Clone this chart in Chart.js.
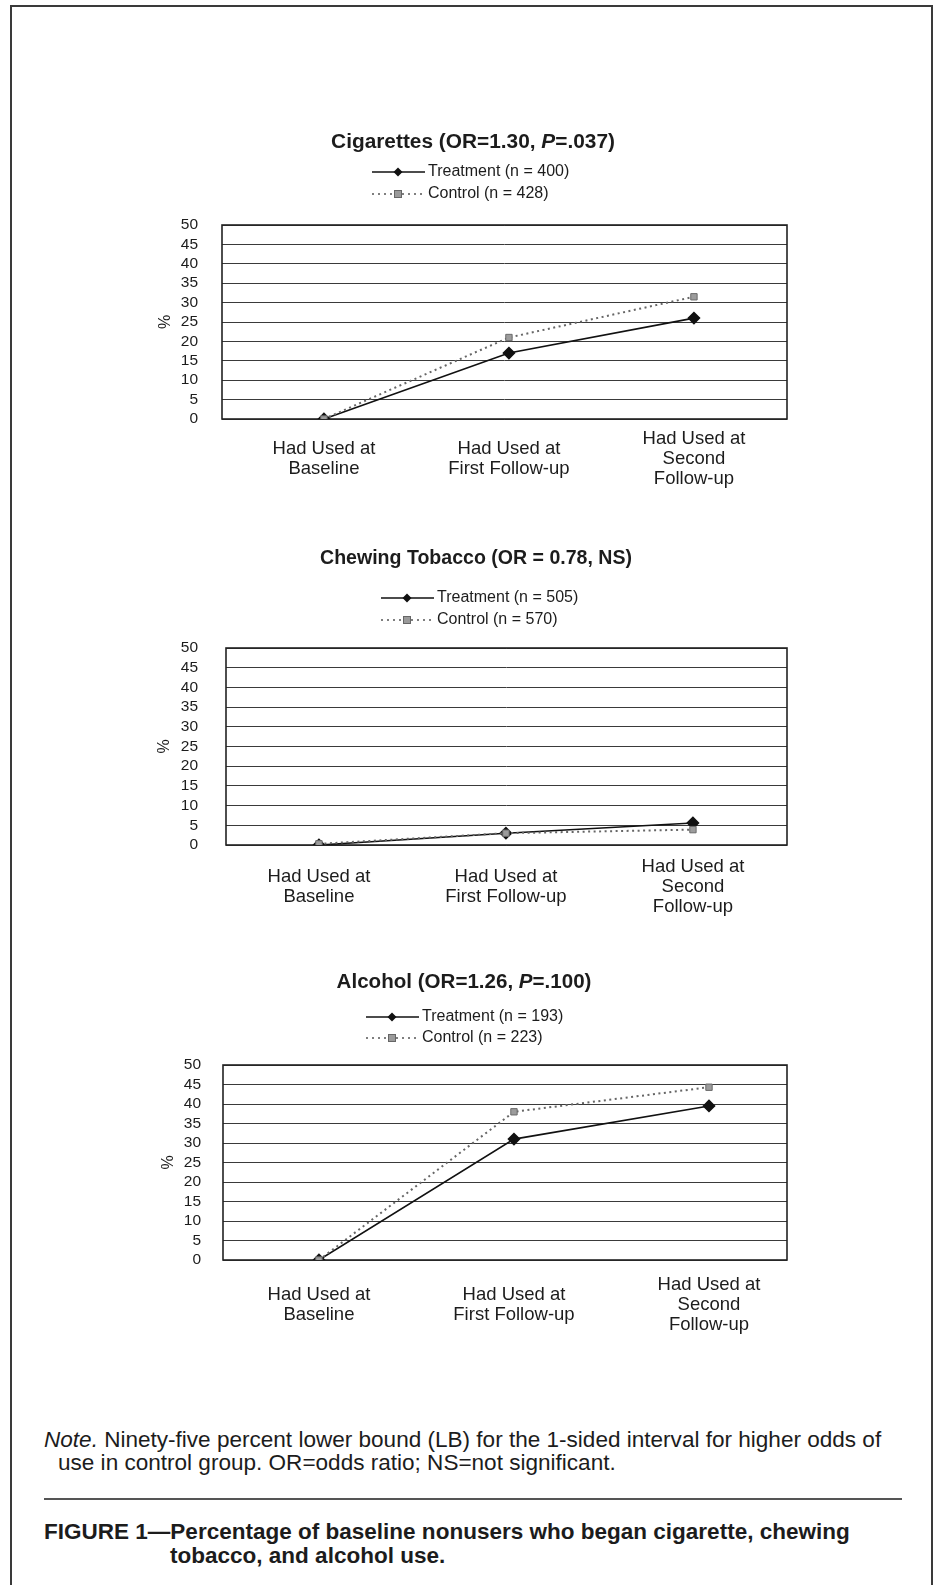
<!DOCTYPE html>
<html>
<head>
<meta charset="utf-8">
<script src="https://cdn.jsdelivr.net/npm/chart.js@4.4.0/dist/chart.umd.min.js"></script>
<style>
html,body{margin:0;padding:0;background:#fff;}
body{width:935px;height:1585px;position:relative;overflow:hidden;font-family:"Liberation Sans",Arial,Helvetica,sans-serif;color:#1c1c1c;}
.frame{position:absolute;left:10px;top:5px;width:923px;height:1700px;border:2px solid #3a3a3a;border-bottom:none;box-sizing:border-box;}
.box{position:absolute;left:140px;width:670px;height:380px;}
.txt{position:absolute;white-space:nowrap;transform:translateY(-50%);line-height:1.15;}
.rule{position:absolute;left:44px;top:1498px;width:858px;height:2px;background:#555;}
</style>
</head>
<body>
<div class="frame"></div>
<div class="box" style="top:115px"><canvas id="c1" width="670" height="380"></canvas></div>
<div class="box" style="top:538px"><canvas id="c2" width="670" height="380"></canvas></div>
<div class="box" style="top:955px"><canvas id="c3" width="670" height="380"></canvas></div>

<div class="txt" id="note1" style="left:44px;top:1440px;font-size:18px;"><i>Note.</i> Ninety-five percent lower bound (LB) for the 1-sided interval for higher odds of</div>
<div class="txt" id="note2" style="left:58px;top:1463px;font-size:18px;">use in control group. OR=odds ratio; NS=not significant.</div>
<div class="rule"></div>
<div class="txt" id="cap1" style="left:44px;top:1532px;font-size:19px;font-weight:bold;">FIGURE 1—Percentage of baseline nonusers who began cigarette, chewing</div>
<div class="txt" id="cap2" style="left:170px;top:1556px;font-size:19px;font-weight:bold;">tobacco, and alcohol use.</div>

<script>
// ---- data ----
const categories = [["Had Used at", "Baseline"], ["Had Used at", "First Follow-up"], ["Had Used at", "Second", "Follow-up"]];
const yMin = 0;
const yMax = 50;
const yStep = 5;

const cigTreatment = [0, 17, 26];
const cigControl = [0, 21, 31.5];
const chewTreatment = [0, 3, 5.6];
const chewControl = [0.3, 3, 3.9];
const alcTreatment = [0, 31, 39.5];
const alcControl = [0, 38, 44.3];

const cigTitle = [["Cigarettes (OR=1.30, ", false], ["P", true], ["=.037)", false]];
const chewTitle = [["Chewing Tobacco (OR = 0.78, NS)", false]];
const alcTitle = [["Alcohol (OR=1.26, ", false], ["P", true], ["=.100)", false]];

const cigLegend = ["Treatment (n = 400)", "Control (n = 428)"];
const chewLegend = ["Treatment (n = 505)", "Control (n = 570)"];
const alcLegend = ["Treatment (n = 193)", "Control (n = 223)"];

const yAxisLabel = "%";

// ---- layout (per chart) ----
const FONT = '"Liberation Sans", Arial, Helvetica, sans-serif';
const INK = '#1c1c1c';

function drawTitle(ctx, parts, cx, cy, targetW) {
  let fs = 20;
  const measure = (size) => {
    let w = 0;
    parts.forEach(([t, it]) => {
      ctx.font = (it ? 'italic ' : '') + 'bold ' + size + 'px ' + FONT;
      w += ctx.measureText(t).width;
    });
    return w;
  };
  const w0 = measure(fs);
  fs = fs * targetW / w0;
  const w = measure(fs);
  let x = cx - w / 2;
  ctx.fillStyle = INK;
  ctx.textBaseline = 'middle';
  ctx.textAlign = 'left';
  parts.forEach(([t, it]) => {
    ctx.font = (it ? 'italic ' : '') + 'bold ' + fs + 'px ' + FONT;
    ctx.fillText(t, x, cy);
    x += ctx.measureText(t).width;
  });
}

function diamond(ctx, x, y, r, fill) {
  ctx.beginPath();
  ctx.moveTo(x, y - r); ctx.lineTo(x + r, y); ctx.lineTo(x, y + r); ctx.lineTo(x - r, y); ctx.closePath();
  ctx.fillStyle = fill; ctx.fill();
}
function square(ctx, x, y, r, fill, stroke) {
  ctx.fillStyle = fill; ctx.fillRect(x - r, y - r, 2 * r, 2 * r);
  ctx.strokeStyle = stroke; ctx.lineWidth = 1; ctx.strokeRect(x - r, y - r, 2 * r, 2 * r);
}

function makeChart(cfg) {
  const deco = {
    id: 'deco_' + cfg.id,
    beforeDatasetsDraw(chart) {
      const {ctx, chartArea: a} = chart;
      ctx.save();
      ctx.strokeStyle = '#222';
      ctx.lineWidth = 1.6;
      ctx.strokeRect(a.left, a.top, a.right - a.left, a.bottom - a.top);
      ctx.restore();
    },
    afterDraw(chart) {
      const ctx = chart.ctx;
      ctx.save();
      drawTitle(ctx, cfg.title, cfg.titlePos[0], cfg.titlePos[1], cfg.titlePos[2]);
      const lx = cfg.legendPos[0];
      const ly = [cfg.legendPos[1], cfg.legendPos[2]];
      const symW = 53;
      // treatment
      ctx.strokeStyle = '#111'; ctx.lineWidth = 1.3; ctx.setLineDash([]);
      ctx.beginPath(); ctx.moveTo(lx, ly[0]); ctx.lineTo(lx + symW, ly[0]); ctx.stroke();
      diamond(ctx, lx + 26, ly[0], 4.5, '#111');
      // control
      ctx.strokeStyle = '#555'; ctx.lineWidth = 1.3; ctx.setLineDash([2, 4]);
      ctx.beginPath(); ctx.moveTo(lx, ly[1]); ctx.lineTo(lx + symW, ly[1]); ctx.stroke();
      ctx.setLineDash([]);
      square(ctx, lx + 26, ly[1], 3.5, '#9a9a9a', '#666');
      ctx.fillStyle = INK; ctx.font = '16px ' + FONT; ctx.textBaseline = 'middle'; ctx.textAlign = 'left';
      ctx.fillText(cfg.legend[0], lx + symW + 3, ly[0]);
      ctx.fillText(cfg.legend[1], lx + symW + 3, ly[1]);
      ctx.restore();
    }
  };

  return new Chart(document.getElementById(cfg.id), {
    type: 'line',
    data: {
      datasets: [
        {
          label: cfg.legend[0],
          data: cfg.treatment.map((v, i) => ({x: i, y: v})),
          borderColor: '#111', borderWidth: 1.6,
          pointStyle: 'rectRot', pointRadius: 5.5,
          pointBackgroundColor: '#111', pointBorderColor: '#111',
          tension: 0, order: 1
        },
        {
          label: cfg.legend[1],
          data: cfg.control.map((v, i) => ({x: i, y: v})),
          borderColor: '#666', borderWidth: 2, borderDash: [2, 3.5],
          pointStyle: 'rect', pointRadius: 4.5,
          pointBackgroundColor: '#9c9c9c', pointBorderColor: '#6a6a6a', pointBorderWidth: 1,
          tension: 0, order: 0
        }
      ]
    },
    options: {
      responsive: false,
      animation: false,
      devicePixelRatio: 1,
      layout: {padding: {top: 110, right: 23, left: 0, bottom: 0}},
      plugins: {legend: {display: false}, tooltip: {enabled: false}, title: {display: false}},
      scales: {
        x: {
          type: 'linear',
          min: cfg.xRange[0], max: cfg.xRange[1],
          afterBuildTicks: (s) => { s.ticks = categories.map((c, i) => ({value: i})); },
          afterFit: (s) => { s.height = cfg.xH; },
          grid: {display: false, drawTicks: false},
          border: {display: false},
          ticks: {
            autoSkip: false, maxRotation: 0, minRotation: 0,
            padding: cfg.xPad,
            crossAlign: 'center',
            color: INK,
            font: {family: FONT, size: 18.5, lineHeight: 1.08},
            callback: (v) => categories[v]
          }
        },
        y: {
          min: yMin, max: yMax,
          afterFit: (s) => { s.width = cfg.yW; },
          grid: {color: '#3a3a3a', lineWidth: 1, drawTicks: false},
          border: {display: false},
          ticks: {stepSize: yStep, autoSkip: false, padding: cfg.yPad, color: INK, font: {family: FONT, size: 15.5, lineHeight: 1}},
          title: {display: true, text: yAxisLabel, color: INK, font: {family: FONT, size: 16, lineHeight: 1.2}, padding: {top: cfg.pctPad, bottom: 0}}
        }
      }
    },
    plugins: [deco]
  });
}

makeChart({id: 'c1', treatment: cigTreatment, control: cigControl, title: cigTitle, legend: cigLegend,
  titlePos: [333, 27.5, 284], legendPos: [232, 57, 79],
  yW: 82, xH: 76, yPad: 24, pctPad: 16, xPad: 20, xRange: [-0.551, 2.503]});
makeChart({id: 'c2', treatment: chewTreatment, control: chewControl, title: chewTitle, legend: chewLegend,
  titlePos: [336, 21, 312], legendPos: [241, 60, 82],
  yW: 86, xH: 73, yPad: 28, pctPad: 15, xPad: 22, xRange: [-0.497, 2.503]});
makeChart({id: 'c3', treatment: alcTreatment, control: alcControl, title: alcTitle, legend: alcLegend,
  titlePos: [324, 27.5, 255], legendPos: [226, 62, 83],
  yW: 83, xH: 75, yPad: 22, pctPad: 19, xPad: 25, xRange: [-0.492, 2.4]});

// fit page texts to reference widths
function fit(el, target, others) {
  const w = el.getBoundingClientRect().width;
  const fs = parseFloat(getComputedStyle(el).fontSize) * target / w;
  el.style.fontSize = fs + 'px';
  (others || []).forEach(o => { o.style.fontSize = fs + 'px'; });
}
fit(document.getElementById('note1'), 838, [document.getElementById('note2')]);
fit(document.getElementById('cap1'), 806, [document.getElementById('cap2')]);
</script>
</body>
</html>
